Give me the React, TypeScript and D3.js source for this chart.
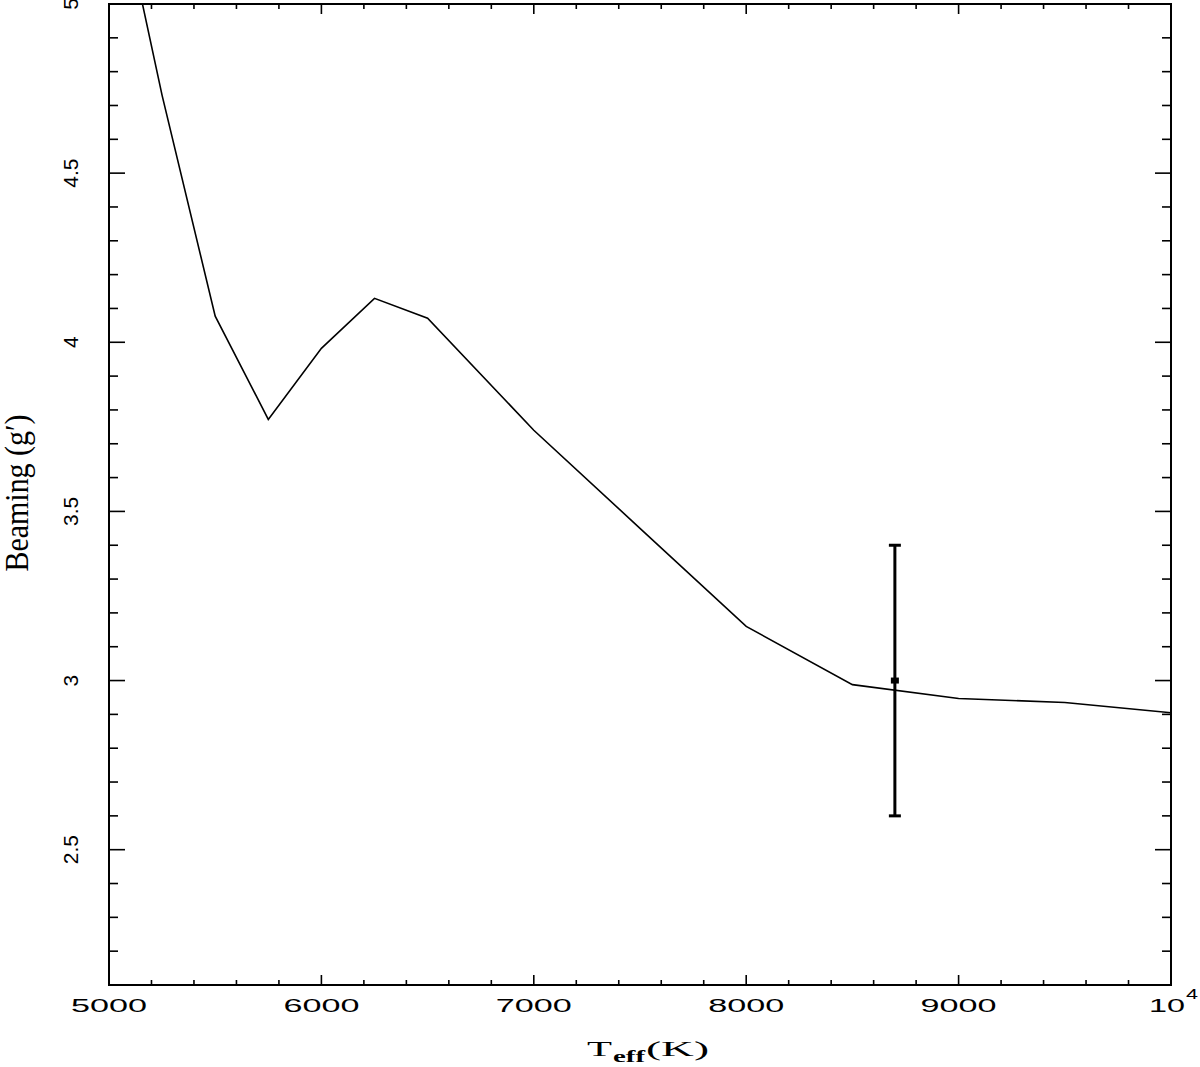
import React from 'react';
import * as d3 from 'd3';

const width = 1200;
const height = 1067;
const margin = { top: 4, right: 29, bottom: 82, left: 109 };

// model curve: beaming factor vs effective temperature
const teff = [5000, 5250, 5500, 5750, 6000, 6250, 6500, 7000, 7500, 8000, 8500, 9000, 9500, 10000];
const beaming = [5.46, 4.73, 4.077, 3.772, 3.982, 4.13, 4.071, 3.74, 3.45, 3.16, 2.988, 2.947, 2.935, 2.905];

// measured point with error bar
const obsTeff = [8700];
const obsBeaming = [3.0];
const obsErr = [0.4];

const xMajor = [5000, 6000, 7000, 8000, 9000, 10000];
const xLabels = ['5000', '6000', '7000', '8000', '9000', '10'];
const yMajor = [2.5, 3, 3.5, 4, 4.5, 5];
const yLabels = ['2.5', '3', '3.5', '4', '4.5', '5'];

const tickFont = '"Liberation Sans", Arial, sans-serif';
const serif = '"Liberation Serif", "DejaVu Serif", serif';

export default function App() {
  const x = d3.scaleLinear().domain([5000, 10000]).range([margin.left, width - margin.right]);
  const y = d3.scaleLinear().domain([2.1, 5]).range([height - margin.bottom, margin.top]);
  const x0 = x.range()[0], x1 = x.range()[1];
  const y0 = y.range()[0], y1 = y.range()[1];

  const xMinor = d3.range(5000, 10001, 200).filter((v) => v % 1000 !== 0);
  const yMinor = d3.range(22, 50).map((v) => v / 10).filter((v) => Math.round(v * 10) % 5 !== 0);

  const line = d3.line<number>()
    .x((_, i) => x(teff[i]))
    .y((d) => y(d));

  return (
    <svg width={width} height={height} style={{ position: 'absolute', left: 0, top: 0, background: '#fff' }}>
      <defs>
        <clipPath id="plotClip">
          <rect x={x0} y={y1} width={x1 - x0} height={y0 - y1} />
        </clipPath>
      </defs>

      {/* curve */}
      <path d={line(beaming) || ''} fill="none" stroke="#000" strokeWidth={1.6} clipPath="url(#plotClip)" />

      {/* error bar */}
      {obsTeff.map((t, i) => (
        <g key={'eb' + i} stroke="#000" strokeWidth={3}>
          <line x1={x(t)} x2={x(t)} y1={y(obsBeaming[i] + obsErr[i])} y2={y(obsBeaming[i] - obsErr[i])} />
          <line x1={x(t) - 6} x2={x(t) + 6} y1={y(obsBeaming[i] + obsErr[i])} y2={y(obsBeaming[i] + obsErr[i])} />
          <line x1={x(t) - 6} x2={x(t) + 6} y1={y(obsBeaming[i] - obsErr[i])} y2={y(obsBeaming[i] - obsErr[i])} />
          <rect x={x(t) - 4} y={y(obsBeaming[i]) - 3} width={8} height={6} fill="#000" stroke="none" />
        </g>
      ))}

      {/* frame */}
      <rect x={x0} y={y1} width={x1 - x0} height={y0 - y1} fill="none" stroke="#000" strokeWidth={2} />

      {/* ticks on all four sides */}
      <g stroke="#000" strokeWidth={1.6}>
        {xMajor.map((v) => (
          <g key={'xM' + v}>
            <line x1={x(v)} x2={x(v)} y1={y0} y2={y0 - 10} />
            <line x1={x(v)} x2={x(v)} y1={y1} y2={y1 + 10} />
          </g>
        ))}
        {xMinor.map((v) => (
          <g key={'xm' + v}>
            <line x1={x(v)} x2={x(v)} y1={y0} y2={y0 - 5} />
            <line x1={x(v)} x2={x(v)} y1={y1} y2={y1 + 5} />
          </g>
        ))}
        {yMajor.map((v) => (
          <g key={'yM' + v}>
            <line x1={x0} x2={x0 + 16} y1={y(v)} y2={y(v)} />
            <line x1={x1} x2={x1 - 16} y1={y(v)} y2={y(v)} />
          </g>
        ))}
        {yMinor.map((v) => (
          <g key={'ym' + v}>
            <line x1={x0} x2={x0 + 9} y1={y(v)} y2={y(v)} />
            <line x1={x1} x2={x1 - 9} y1={y(v)} y2={y(v)} />
          </g>
        ))}
      </g>

      {/* x tick labels */}
      {xMajor.map((v, i) =>
        i < xMajor.length - 1 ? (
          <text key={'xl' + v} x={x(v)} y={1012} textAnchor="middle" fontFamily={tickFont} fontSize={18}
            textLength={76} lengthAdjust="spacingAndGlyphs">
            {xLabels[i]}
          </text>
        ) : (
          <g key={'xl' + v}>
            <text x={x(v) - 22} y={1012} fontFamily={tickFont} fontSize={18} textLength={36} lengthAdjust="spacingAndGlyphs">
              {xLabels[i]}
            </text>
            <text x={x(v) + 15} y={999} fontFamily={tickFont} fontSize={14} textLength={12} lengthAdjust="spacingAndGlyphs">
              4
            </text>
          </g>
        )
      )}

      {/* y tick labels */}
      {yMajor.map((v, i) => (
        <text key={'yl' + v} transform={`translate(78,${y(v)}) rotate(-90)`} textAnchor="middle"
          fontFamily={tickFont} fontSize={21}>
          {yLabels[i]}
        </text>
      ))}

      {/* axis titles */}
      <text transform="translate(28,493) rotate(-90)" textAnchor="middle" fontFamily={serif} fontSize={33}
        textLength={157} lengthAdjust="spacingAndGlyphs">
        Beaming (g′)
      </text>
      <g fontFamily={serif}>
        <text x={587} y={1056} fontSize={22} textLength={25} lengthAdjust="spacingAndGlyphs">T</text>
        <text x={613} y={1062} fontSize={16} fontWeight="bold" textLength={32} lengthAdjust="spacingAndGlyphs">eff</text>
        <text x={646} y={1056} fontSize={22} fontWeight="normal" textLength={63} lengthAdjust="spacingAndGlyphs">(K)</text>
      </g>
    </svg>
  );
}
